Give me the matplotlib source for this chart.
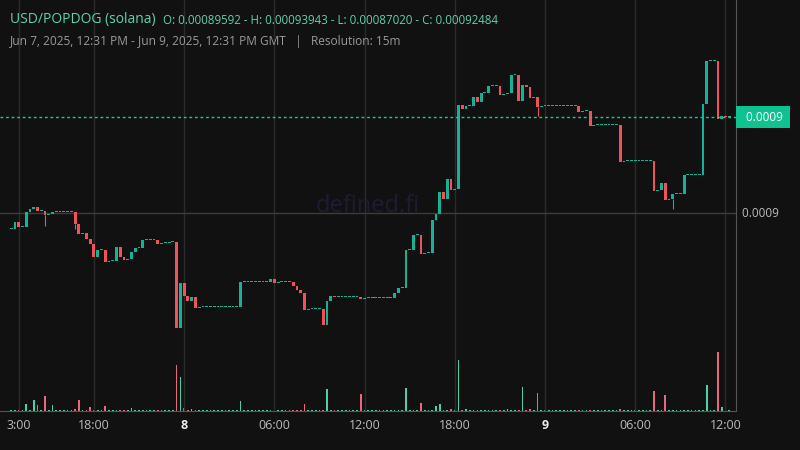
import matplotlib
matplotlib.use("Agg")
import matplotlib.pyplot as plt

plt.rcParams["font.family"] = "Open Sans"

# ---- data (15m candles, prices in units of 1e-8) ----
SCALE = 1e-8
first_open = 89586
closes = ([89586, 89767, 89637, 89637, 90026, 90104, 90155, 90052, 90052, 89948,
           89974, 90026] + [90026] * 5 +
          [89715, 89456, 89482, 89327, 89197, 88860, 89042, 89042, 88731, 88757,
           88757, 89119, 88860, 88783, 88809, 88990, 89094, 89094, 89301] + [89301] * 3 +
          [89197, 89223, 89223, 89249, 89249, 87020, 88187, 87850, 87721, 87824,
           87540] + [87565] * 11 +
          [88213] + [88213] * 7 +
          [88291, 88187] + [88213] * 4 +
          [88109, 88006, 87928, 87488] + [87514] * 4 +
          [87100, 87721, 87850, 87824] + [87824] * 6 +
          [87773] + [87799] * 8 +
          [87928, 88058, 88058, 89042, 89042, 89430, 89430, 88938, 88964, 88964,
           89819, 89974, 90544, 90363, 90881, 90596, 90622, 92797, 92694, 92771,
           92771, 93004, 92875, 93108, 93108, 93289, 93289, 93289, 93056, 93082,
           93108, 93574, 93574, 92901, 93315, 93263, 92979, 93004, 92745] +
          [92771] * 10 +
          [92616, 92642, 92642, 92253] + [92279] * 7 +
          [91321] + [91347] * 8 +
          [90570, 90596, 90777, 90337, 90363, 90492, 90492, 90492, 90984] + [90984] * 4 +
          [92823, 93943, 93943, 93943, 92435, 92512, 92484, 92484])
wick_lows = {9: 89663, 17: 89586, 113: 89922, 140: 92512, 176: 90104}
volume_spikes = {1: 1, 4: 7, 6: 11, 7: 6, 9: 15, 11: 6, 17: 2, 18: 11, 21: 4, 22: 1,
                 25: 5, 28: 1, 29: 1, 32: 3, 44: 46, 45: 34, 46: 3, 47: 1, 48: 2,
                 61: 10, 70: 4, 75: 1, 78: 7, 84: 22, 86: 1, 93: 17, 102: 1, 105: 23,
                 109: 8, 113: 5, 114: 7, 117: 2, 119: 51, 121: 2, 123: 1, 125: 1,
                 132: 2, 133: 1, 135: 1, 136: 24, 138: 2, 140: 18, 151: 1, 162: 2,
                 171: 20, 174: 16, 176: 1, 185: 26, 188: 59, 189: 4}
base_volume = 0.6
tick_pos = [2, 22, 46, 70, 94, 118, 142, 166, 190]
tick_labels = ["3:00", "18:00", "8", "06:00", "12:00", "18:00", "9", "06:00", "12:00"]
last_price = 0.00092484
ref_price = 0.0009

opens = [first_open] + closes[:-1]

BG = "#111111"
UP, DN = "#16b295", "#f0525c"
VUP, VDN = "#4fcfa6", "#e8687c"

fig = plt.figure(figsize=(8, 4.5), dpi=100, facecolor=BG)
ax = fig.add_axes([0, 1 - 411 / 450, 736 / 800, 411 / 450])
vax = ax.twinx()
ax.set_zorder(2); ax.patch.set_visible(False)
vax.set_zorder(1)
vax.patch.set_facecolor(BG)
vax.patch.set_visible(True)

px = 25.9e-8  # one pixel of price
for i, (o, c) in enumerate(zip(opens, closes)):
    o *= SCALE; c *= SCALE
    col = UP if c >= o else DN
    bottom = min(o, c)
    h = max(abs(c - o), px * 0.9)
    ax.bar(i, h, bottom=bottom, width=0.75, color=col, linewidth=0)
    if i in wick_lows:
        ax.vlines(i, wick_lows[i] * SCALE, bottom, color=col, linewidth=0.8)
    v = volume_spikes.get(i, base_volume)
    vax.bar(i, v, width=0.45, color=VUP if c >= o else VDN, linewidth=0)

ax.set_xlim(-2.98, 192.8)
ax.set_ylim(0.00084872, 0.00095517)
vax.set_ylim(0, 411)

for t in tick_pos:
    ax.axvline(t, color="#2b2b2b", linewidth=1, zorder=0)
ax.axhline(ref_price, color="#3c3c3c", linewidth=1, zorder=0)
ax.axhline(last_price, color="#1fc79a", linewidth=1, linestyle=(0, (2, 2)))

for a in (ax, vax):
    a.set_yticks([])
    for s in a.spines.values():
        s.set_visible(False)
ax.spines["bottom"].set_visible(True)
ax.spines["bottom"].set_color("#555555")
ax.spines["right"].set_visible(True)
ax.spines["right"].set_color("#555555")

ax.set_xticks(tick_pos)
ax.set_xticklabels(tick_labels)
ax.tick_params(axis="x", length=0, colors="#bbbbbb", labelsize=9, pad=6)
for lbl in ax.get_xticklabels():
    if lbl.get_text() in ("8", "9"):
        lbl.set_fontweight("bold")
        lbl.set_color("#eeeeee")

# price labels on the right
ax.text(1.0, ref_price, "  0.0009", transform=ax.get_yaxis_transform(),
        color="#bbbbbb", fontsize=8.5, va="center", ha="left", clip_on=False)
ax.text(1.006, last_price, "  0.0009 ", transform=ax.get_yaxis_transform(),
        color="white", fontsize=8.5, va="center", ha="left", clip_on=False,
        bbox=dict(boxstyle="square,pad=0.35", fc="#0fc28f", ec="none"))

# watermark
ax.text(0.5, 0.50, "defined.fi", transform=ax.transAxes, color="#1e1c33",
        fontsize=17, ha="center", va="center", zorder=0)

fig.text(10 / 800, 1 - 19 / 450, "USD/POPDOG (solana)", color="#5ed3a9",
         fontsize=10, va="center")
fig.text(163 / 800, 1 - 20 / 450,
         "O: 0.00089592 - H: 0.00093943 - L: 0.00087020 - C: 0.00092484",
         color="#5ed3a9", fontsize=8.3, va="center")
fig.text(10 / 800, 1 - 41 / 450,
         "Jun 7, 2025, 12:31 PM - Jun 9, 2025, 12:31 PM GMT   |   Resolution: 15m",
         color="#9a9a9a", fontsize=8.6, va="center")

plt.savefig("out.png", dpi=100, facecolor=BG)
